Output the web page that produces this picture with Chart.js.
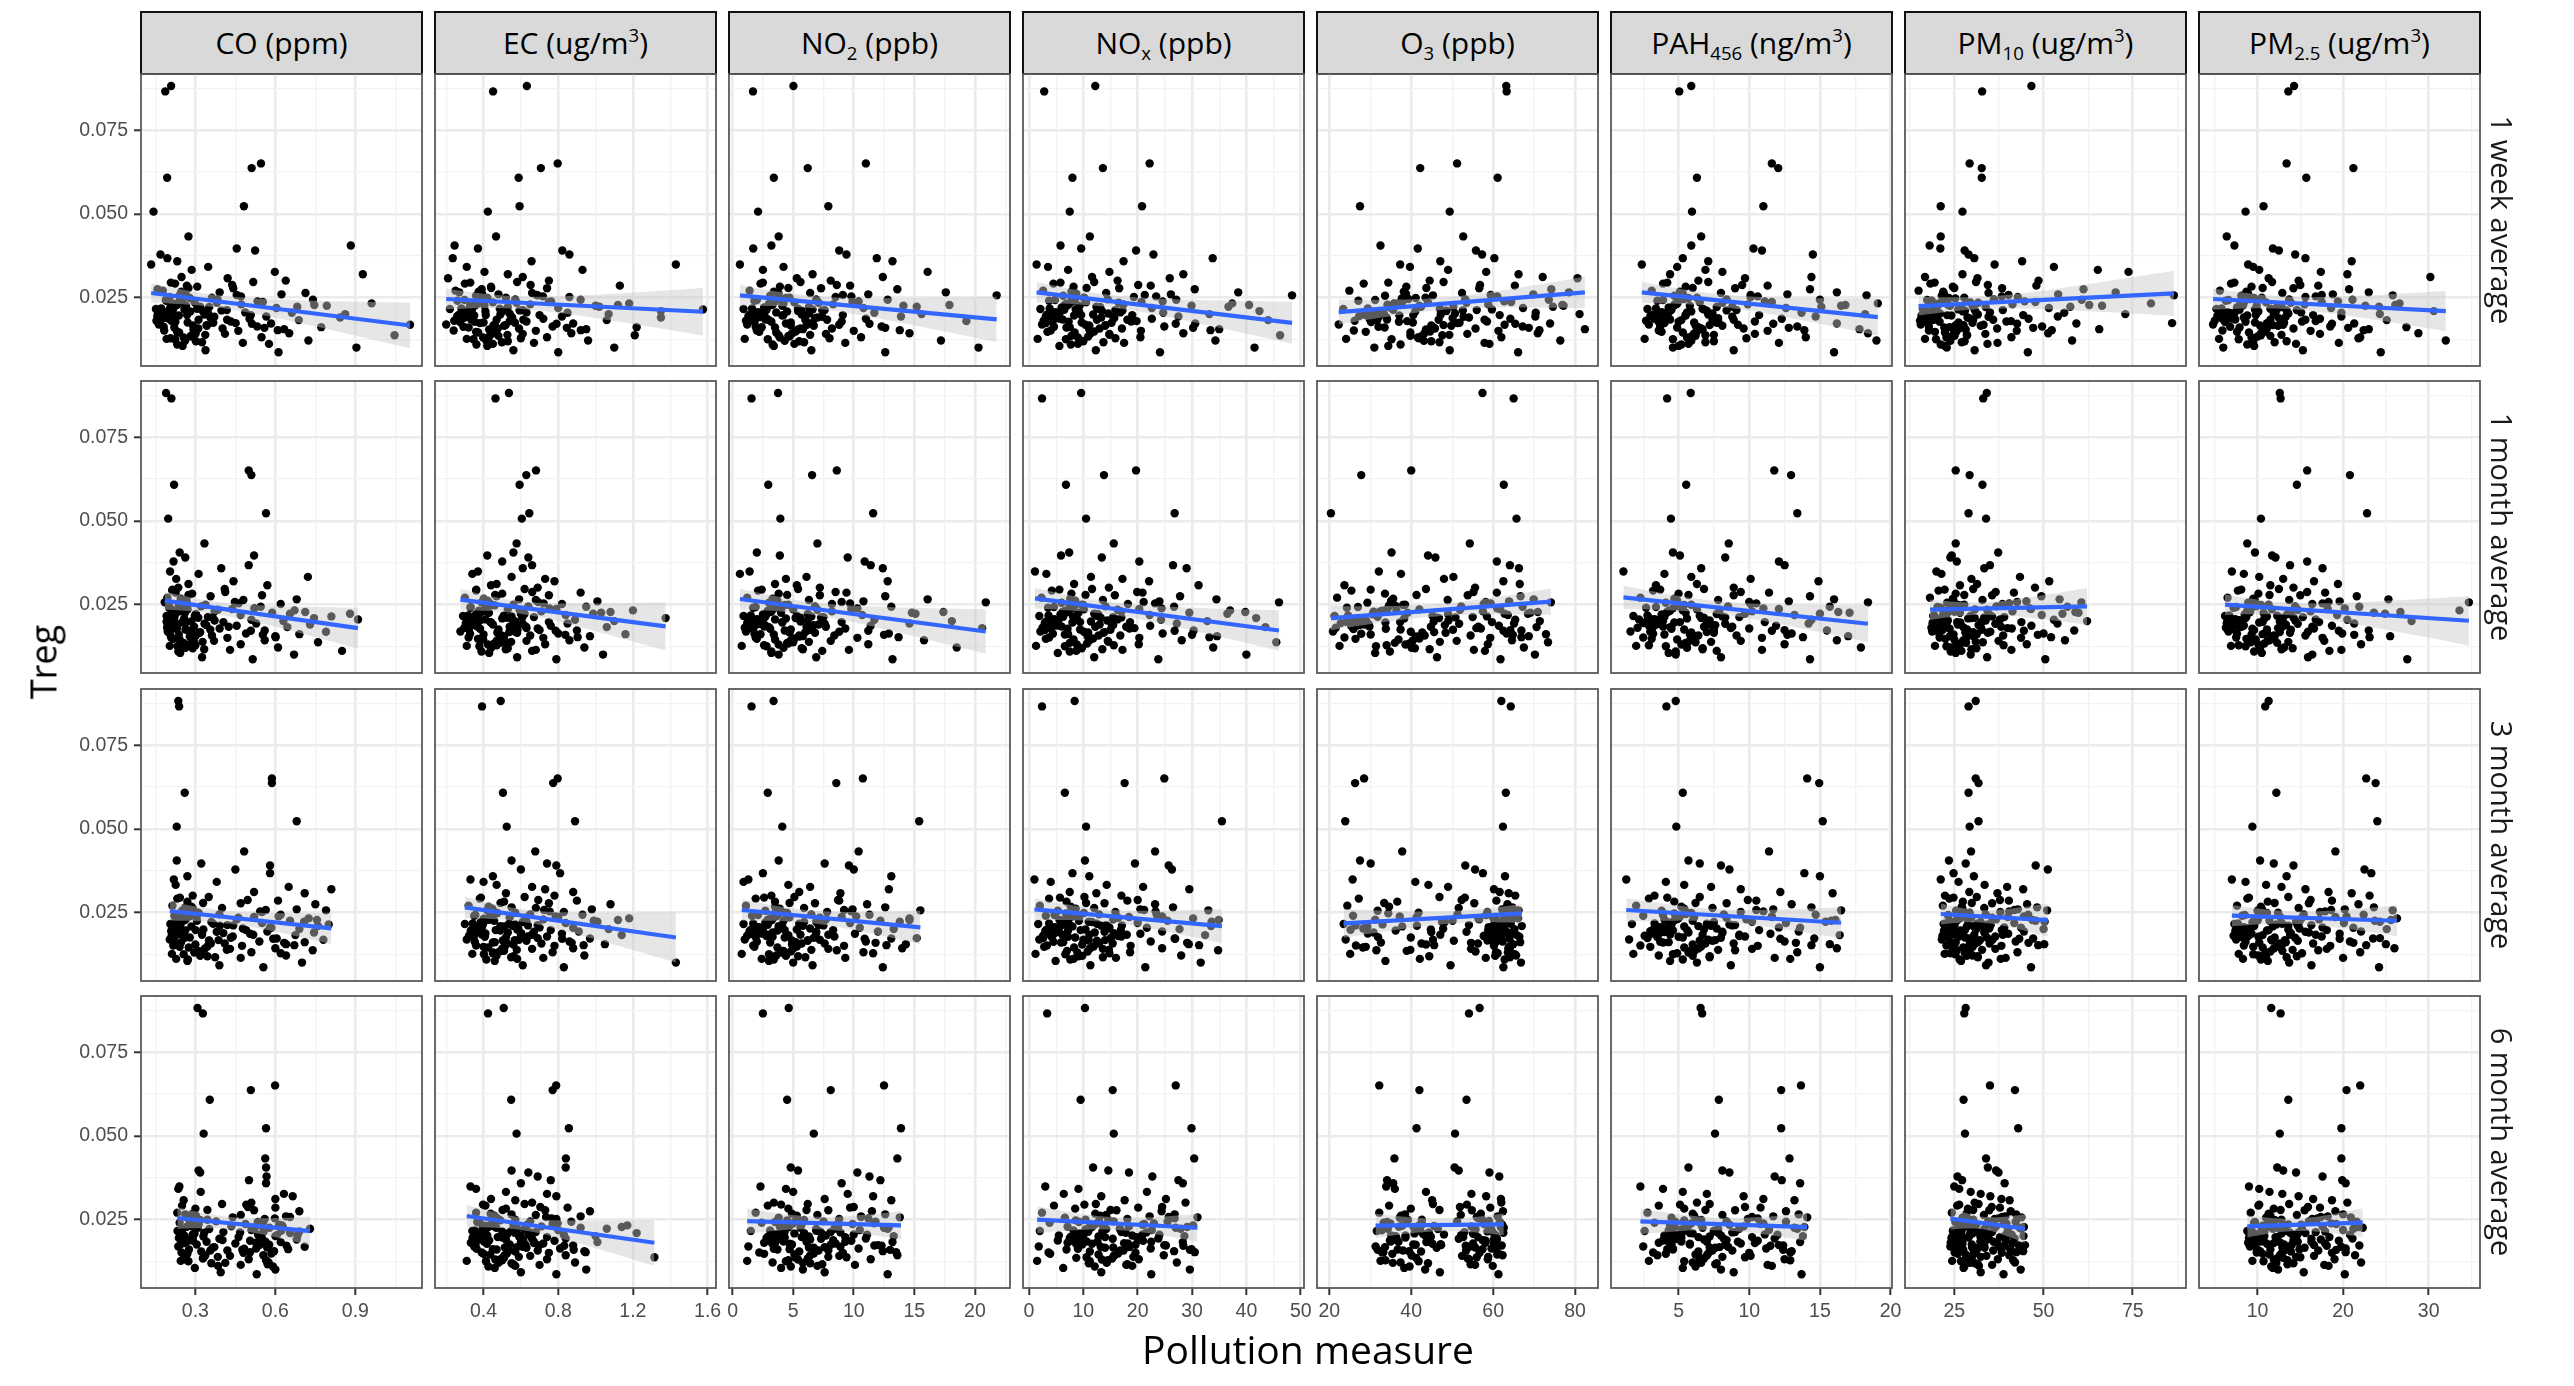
<!DOCTYPE html>
<html><head><meta charset="utf-8">
<script src="https://cdn.jsdelivr.net/npm/chart.js@4.4.1/dist/chart.umd.min.js"></script>
<style>
html,body{margin:0;padding:0;background:#fff;}
#wrap{position:relative;width:2574px;height:1386px;overflow:hidden;background:#fff;}
canvas.panel{position:absolute;}
.strip{position:absolute;box-sizing:border-box;background:#D9D9D9;border:2px solid #111;display:flex;align-items:center;justify-content:center;font-family:'Open Sans',sans-serif;font-size:30px;color:#000;white-space:nowrap;}
.strip span.t{display:inline-block;line-height:1;}
.strip sub{font-size:0.62em;vertical-align:-0.32em;line-height:0;}
.strip sup{font-size:0.62em;vertical-align:0.62em;line-height:0;}
.rstrip{position:absolute;writing-mode:vertical-rl;font-family:'Open Sans',sans-serif;font-size:29px;color:#1a1a1a;white-space:nowrap;transform:translate(-50%,-50%);}
.ytitle{position:absolute;font-family:'Open Sans',sans-serif;font-size:36px;color:#000;white-space:nowrap;transform:translate(-50%,-50%) rotate(-90deg);}
.xtitle{position:absolute;font-family:'Open Sans',sans-serif;font-size:39px;line-height:39px;color:#000;white-space:nowrap;transform:translateX(-50%);}
</style>
</head><body><div id="wrap"></div>
<script>
// ---------------- DATA ----------------
const windows = ['1 week average','1 month average','3 month average','6 month average'];
const yRange = [0.0046, 0.0918];
const yTicks = [0.025, 0.050, 0.075];

// Treg value of each subject (shared by all panels)
const treg = [
0.0882,0.0866,0.0651,0.0637,0.0608,0.0523,0.0507,0.0433,
0.0406,0.0397,0.0391,0.0379,0.0368,0.0359,
0.0349,0.0342,0.0333,0.0327,0.0320,0.0312,0.0308,0.0301,
0.0271,0.0292,0.0256,0.0283,0.0250,0.0297,0.0264,0.0278,0.0252,0.0286,0.0260,0.0275,0.0266,0.0257,
0.0216,0.0241,0.0203,0.0229,0.0248,0.0209,0.0236,0.0200,0.0222,0.0245,0.0213,0.0230,0.0198,0.0237,0.0219,0.0205,0.0244,0.0226,0.0201,0.0233,0.0210,0.0215,0.0223,0.0206,
0.0170,0.0152,0.0188,0.0161,0.0197,0.0176,0.0155,0.0184,0.0166,0.0193,0.0158,0.0179,0.0151,0.0187,0.0164,0.0194,0.0173,0.0156,0.0183,0.0162,0.0191,0.0169,0.0180,0.0174,
0.0127,0.0148,0.0106,0.0136,0.0120,0.0093,0.0142,0.0115,0.0132,0.0087,0.0144,0.0122,0.0101,0.0138,0.0112,0.0129,
0.0218,0.0185,0.0262,0.0143,0.0207,0.0231,0.0168,0.0195,0.0249,0.0126,
0.0212,0.0177,0.0239,0.0158,0.0202,0.0288,0.0134,0.0221,0.0189,0.0246,
0.0163,0.0227,0.0198,0.0117,0.0254,0.0181,0.0214,0.0149,0.0235,0.0172,
0.0208,0.0268,0.0139,0.0192,0.0226,0.0160,0.0243,0.0184,0.0110,0.0217,
0.0199,0.0279,0.0153,0.0232,0.0175,0.0204,0.0131,0.0258,0.0187,0.0223,
0.0146,0.0211,0.0295,0.0167,0.0239,0.0190,0.0121,0.0228,0.0178,0.0203];

// ---- CO (ppm)
const rangeCO = [0.096, 1.150];
const ticksCO = [0.3, 0.6, 0.9];
const fitCO = [[0.0264,0.0167],[0.0262,0.0180],[0.0255,0.0203],[0.0255,0.0216]];
const CO_1w = [0.209,0.187,0.546,0.511,0.194,0.482,0.143,0.274,
0.883,0.455,0.524,0.169,0.195,0.232,
0.134,0.348,0.286,0.598,0.928,0.248,0.421,0.639,
0.178,0.224,0.262,0.307,0.362,0.517,0.713,0.442,0.203,0.268,0.623,0.158,0.391,0.241,
0.152,0.191,0.214,0.229,0.253,0.281,0.297,0.334,0.352,0.383,0.418,0.472,0.508,0.553,0.604,0.662,0.741,0.793,0.862,0.961,0.171,0.259,0.318,0.487,
0.163,0.183,0.199,0.221,0.238,0.271,0.293,0.312,0.343,0.371,0.402,0.433,0.461,0.503,0.532,0.566,0.584,0.633,0.688,0.772,0.843,1.105,0.211,0.451,
0.192,0.231,0.252,0.283,0.302,0.338,0.411,0.478,0.548,0.612,0.652,0.724,0.904,1.047,0.576,0.207,
0.172,0.215,0.263,0.301,0.188,0.236,0.342,0.157,0.279,0.224,
0.398,0.167,0.251,0.311,0.197,0.438,0.283,0.206,0.357,0.242,
0.181,0.228,0.269,0.325,0.471,0.154,0.216,0.295,0.381,0.512,
0.176,0.247,0.337,0.203,0.265,0.559,0.189,0.419,0.232,0.306,
0.161,0.274,0.609,0.218,0.367,0.194,0.256,0.455,0.172,0.682,
0.239,0.327,0.208,0.291,0.533,0.183,0.261,0.746,0.225,0.348];
const CO_1m = [0.19,0.21,0.50,0.51,0.22,0.565,0.198,0.334,
0.241,0.52,0.262,0.218,0.50,0.397,
0.205,0.312,0.722,0.228,0.443,0.274,0.57,0.236,
0.195,0.213,0.252,0.288,0.338,0.41,0.48,0.55,0.62,0.226,0.267,0.357,0.68,0.185,
0.192,0.201,0.219,0.233,0.246,0.258,0.271,0.285,0.302,0.321,0.347,0.372,0.405,0.438,0.47,0.51,0.545,0.588,0.63,0.672,0.745,0.81,0.88,0.91,
0.196,0.209,0.224,0.238,0.249,0.263,0.279,0.295,0.316,0.334,0.362,0.391,0.42,0.455,0.49,0.528,0.56,0.6,0.645,0.69,0.73,0.79,0.231,0.27,
0.204,0.217,0.243,0.256,0.29,0.325,0.37,0.43,0.47,0.515,0.56,0.61,0.67,0.76,0.85,0.3,
0.201,0.226,0.258,0.294,0.215,0.243,0.318,0.197,0.271,0.233,
0.365,0.207,0.249,0.302,0.219,0.412,0.282,0.211,0.341,0.238,
0.204,0.229,0.266,0.333,0.462,0.194,0.222,0.289,0.384,0.508,
0.199,0.245,0.327,0.213,0.261,0.553,0.203,0.425,0.236,0.298,
0.192,0.274,0.601,0.218,0.356,0.207,0.253,0.448,0.196,0.655,
0.241,0.311,0.214,0.286,0.521,0.2,0.263,0.712,0.227,0.372];
const CO_3m = [0.236,0.239,0.587,0.587,0.26,0.68,0.23,0.483,
0.23,0.322,0.58,0.45,0.58,0.27,
0.219,0.38,0.226,0.65,0.81,0.52,0.71,0.29,
0.214,0.232,0.25,0.27,0.31,0.35,0.4,0.47,0.55,0.61,0.68,0.75,0.262,0.79,
0.206,0.221,0.237,0.253,0.268,0.285,0.304,0.33,0.36,0.39,0.42,0.455,0.49,0.52,0.55,0.585,0.62,0.655,0.69,0.725,0.76,0.8,0.244,0.58,
0.204,0.217,0.229,0.246,0.262,0.279,0.3,0.325,0.352,0.38,0.41,0.44,0.475,0.505,0.54,0.57,0.605,0.64,0.675,0.71,0.745,0.78,0.224,0.258,
0.212,0.241,0.27,0.31,0.345,0.39,0.43,0.47,0.51,0.555,0.6,0.64,0.7,0.74,0.228,0.62,
0.215,0.248,0.291,0.336,0.227,0.265,0.387,0.209,0.312,0.256,
0.442,0.221,0.279,0.358,0.238,0.496,0.322,0.231,0.405,0.268,
0.218,0.259,0.301,0.374,0.543,0.211,0.244,0.345,0.461,0.592,
0.224,0.285,0.418,0.236,0.306,0.633,0.228,0.517,0.272,0.367,
0.213,0.329,0.671,0.251,0.433,0.234,0.296,0.564,0.219,0.708,
0.275,0.392,0.242,0.351,0.612,0.226,0.318,0.756,0.262,0.478];
const CO_6m = [0.308,0.328,0.599,0.508,0.354,0.565,0.331,0.562,
0.565,0.312,0.318,0.567,0.501,0.565,
0.24,0.236,0.32,0.632,0.665,0.6,0.256,0.51,
0.232,0.25,0.27,0.3,0.345,0.4,0.47,0.52,0.56,0.6,0.64,0.69,0.262,0.44,
0.233,0.241,0.255,0.268,0.283,0.297,0.312,0.33,0.352,0.378,0.405,0.435,0.462,0.488,0.51,0.535,0.555,0.578,0.6,0.625,0.655,0.69,0.73,0.29,
0.236,0.248,0.262,0.276,0.29,0.305,0.322,0.342,0.365,0.39,0.42,0.45,0.48,0.505,0.528,0.55,0.572,0.595,0.62,0.648,0.68,0.71,0.258,0.54,
0.245,0.27,0.298,0.33,0.36,0.395,0.43,0.47,0.5,0.53,0.555,0.575,0.6,0.26,0.385,0.565,
0.241,0.268,0.302,0.337,0.252,0.285,0.371,0.238,0.318,0.274,
0.468,0.246,0.296,0.356,0.259,0.497,0.328,0.251,0.402,0.279,
0.483,0.513,0.542,0.571,0.598,0.527,0.556,0.585,0.614,0.642,
0.244,0.289,0.384,0.262,0.309,0.476,0.534,0.563,0.591,0.622,
0.249,0.345,0.505,0.548,0.577,0.606,0.264,0.655,0.291,0.521,
0.257,0.333,0.491,0.569,0.537,0.278,0.412,0.628,0.562,0.683];

// ---- EC (ug/m3)
const rangeEC = [0.14, 1.645];
const ticksEC = [0.4, 0.8, 1.2, 1.6];
const fitEC = [[0.0246,0.0208],[0.0265,0.0185],[0.0266,0.0176],[0.0261,0.0181]];
const EC_1w = [0.632,0.451,0.797,0.707,0.588,0.593,0.423,0.467,
0.245,0.37,0.822,0.86,0.235,0.657,
1.43,0.31,0.93,0.405,0.53,0.61,0.21,0.75,
0.25,0.3,0.36,0.44,0.52,0.58,0.66,0.74,0.86,1.13,0.48,0.39,0.27,0.69,
0.22,0.26,0.29,0.33,0.37,0.41,0.45,0.49,0.53,0.57,0.61,0.65,0.7,0.75,0.8,0.85,0.92,1.0,1.07,1.18,1.35,1.575,0.34,0.63,
0.2,0.24,0.28,0.32,0.35,0.4,0.43,0.47,0.51,0.55,0.59,0.63,0.68,0.72,0.77,0.82,0.88,0.95,1.06,1.22,1.35,0.46,0.54,0.38,
0.31,0.36,0.42,0.48,0.53,0.56,0.61,0.67,0.74,0.8,0.87,0.96,1.1,1.21,0.45,0.6,
0.281,0.334,0.392,0.447,0.302,0.365,0.518,0.259,0.421,0.346,
0.593,0.274,0.378,0.476,0.317,0.652,0.431,0.325,0.554,0.389,
0.292,0.356,0.412,0.498,0.718,0.243,0.338,0.462,0.577,0.791,
0.287,0.374,0.528,0.319,0.405,0.846,0.298,0.613,0.362,0.487,
0.268,0.441,0.921,0.343,0.568,0.309,0.398,0.684,0.283,1.02,
0.371,0.505,0.329,0.453,0.762,0.296,0.416,1.12,0.352,0.539];
const EC_1m = [0.536,0.464,0.681,0.629,0.593,0.645,0.605,0.577,
0.56,0.42,0.64,0.5,0.66,0.61,
0.37,0.34,0.55,0.73,0.78,0.47,0.44,0.69,
0.3,0.36,0.43,0.5,0.56,0.62,0.68,0.75,0.82,0.92,1.01,0.47,0.59,0.39,
0.29,0.33,0.38,0.42,0.46,0.5,0.53,0.57,0.6,0.64,0.67,0.71,0.75,0.79,0.84,0.89,0.95,1.03,1.1,1.2,1.375,0.55,0.62,0.41,
0.276,0.32,0.36,0.4,0.44,0.48,0.51,0.54,0.58,0.61,0.65,0.69,0.72,0.76,0.8,0.85,0.9,0.97,1.06,1.16,0.45,0.57,0.63,0.7,
0.31,0.37,0.43,0.49,0.53,0.58,0.63,0.68,0.73,0.79,0.86,0.94,1.04,0.52,0.66,0.47,
0.318,0.367,0.421,0.472,0.338,0.395,0.538,0.305,0.446,0.378,
0.607,0.322,0.408,0.497,0.352,0.661,0.457,0.359,0.571,0.416,
0.328,0.386,0.437,0.519,0.722,0.297,0.371,0.485,0.593,0.786,
0.325,0.401,0.548,0.354,0.429,0.838,0.331,0.628,0.389,0.508,
0.311,0.462,0.904,0.375,0.582,0.342,0.424,0.692,0.319,0.987,
0.398,0.526,0.361,0.474,0.753,0.334,0.441,1.08,0.381,0.557];
const EC_3m = [0.492,0.392,0.797,0.773,0.504,0.89,0.524,0.677,
0.55,0.74,0.79,0.6,0.81,0.45,
0.33,0.4,0.47,0.66,0.73,0.88,0.52,0.78,
0.32,0.38,0.45,0.51,0.57,0.62,0.68,0.75,0.83,0.9,0.98,1.08,0.55,0.42,
0.3,0.35,0.39,0.43,0.47,0.51,0.54,0.58,0.61,0.65,0.69,0.72,0.76,0.8,0.84,0.88,0.93,0.99,1.07,1.18,0.49,0.57,0.63,0.7,
0.31,0.36,0.41,0.45,0.49,0.52,0.56,0.6,0.63,0.67,0.71,0.74,0.78,0.82,0.86,0.91,0.97,1.05,1.14,0.46,0.53,0.59,0.64,0.69,
0.34,0.4,0.46,0.51,0.56,0.61,0.66,0.72,0.77,0.83,0.88,0.94,1.43,0.5,0.58,0.45,
0.342,0.391,0.447,0.501,0.362,0.421,0.567,0.331,0.474,0.402,
0.638,0.347,0.435,0.526,0.376,0.693,0.486,0.384,0.602,0.443,
0.353,0.412,0.465,0.548,0.754,0.322,0.396,0.514,0.623,0.821,
0.349,0.427,0.578,0.379,0.457,0.872,0.356,0.659,0.415,0.537,
0.336,0.491,0.936,0.401,0.613,0.367,0.452,0.724,0.344,1.01,
0.425,0.556,0.386,0.503,0.786,0.358,0.469,1.12,0.407,0.586];
const EC_6m = [0.508,0.424,0.789,0.77,0.548,0.857,0.577,0.841,
0.84,0.55,0.64,0.69,0.76,0.6,
0.33,0.36,0.52,0.74,0.79,0.44,0.57,0.66,
0.36,0.41,0.47,0.52,0.57,0.62,0.68,0.73,0.79,0.85,0.92,0.97,0.55,0.45,
0.34,0.38,0.42,0.46,0.49,0.53,0.56,0.59,0.62,0.65,0.68,0.71,0.74,0.77,0.8,0.83,0.87,0.92,1.0,1.17,1.22,0.5,0.58,0.64,
0.35,0.39,0.43,0.47,0.5,0.54,0.57,0.6,0.63,0.66,0.69,0.72,0.75,0.78,0.81,0.84,0.88,0.94,1.01,0.45,0.52,0.61,0.67,0.7,
0.31,0.4,0.46,0.51,0.55,0.6,0.65,0.7,0.74,0.79,0.84,0.89,0.95,1.315,0.57,0.5,
0.352,0.402,0.458,0.512,0.372,0.432,0.578,0.341,0.485,0.413,
0.649,0.357,0.446,0.537,0.386,0.704,0.497,0.394,0.613,0.454,
0.363,0.423,0.476,0.559,0.765,0.332,0.407,0.525,0.634,0.832,
0.359,0.438,0.589,0.389,0.468,0.883,0.366,0.67,0.426,0.548,
0.346,0.502,0.947,0.412,0.624,0.377,0.463,0.735,0.354,1.06,
0.436,0.567,0.397,0.514,0.797,0.368,0.48,1.14,0.418,0.597];

// ---- NO2 (ppb)
const rangeNO2 = [-0.3, 22.9];
const ticksNO2 = [0, 5, 10, 15, 20];
const fitNO2 = [[0.0257,0.0185],[0.0267,0.0170],[0.0258,0.0206],[0.0246,0.0233]];
const NO2_1w = [5.02,1.68,11.0,6.2,3.4,7.9,2.1,3.8,
3.2,1.7,8.8,9.4,11.9,13.2,
0.6,4.2,2.5,16.1,6.6,12.4,5.3,8.1,
1.4,2.3,3.1,3.9,4.7,5.6,6.4,7.3,8.5,9.7,11.2,13.6,17.6,21.8,
0.9,1.8,2.6,3.3,3.9,4.5,5.1,5.7,6.3,6.9,7.6,8.3,9.1,9.9,10.8,11.7,12.8,14.1,15.6,4.2,5.4,6.6,2.9,3.6,
1.2,2.0,2.8,3.5,4.1,4.8,5.4,6.0,6.7,7.4,8.2,9.0,10.0,11.0,12.3,13.9,4.4,5.8,3.0,2.4,7.0,8.8,19.3,6.2,
1.0,2.2,3.4,4.6,5.5,6.5,7.7,9.3,10.6,12.6,14.6,17.2,20.3,3.8,5.1,8.0,
1.6,2.7,3.8,4.9,2.1,3.2,6.1,1.3,4.4,2.9,
7.4,1.8,3.5,5.6,2.4,8.6,4.7,2.6,6.8,3.7,
1.9,3.1,4.2,5.9,9.8,1.1,2.8,5.2,7.1,11.3,
1.7,3.4,6.4,2.3,4.1,12.6,2.0,7.8,3.3,5.4,
1.4,4.6,13.8,3.0,6.6,2.2,3.9,9.1,1.5,15.2,
3.6,5.7,2.5,4.8,10.4,2.0,4.3,17.9,3.2,6.3];
const NO2_1m = [3.75,1.56,8.6,6.56,2.94,11.6,3.94,7.0,
2.0,3.9,9.5,10.9,11.4,12.4,
1.4,0.6,6.1,4.4,12.8,3.5,5.3,7.2,
1.2,2.1,3.0,3.8,4.6,5.4,6.3,7.2,8.2,9.4,10.8,12.6,16.1,20.9,
0.9,1.7,2.5,3.2,3.8,4.4,5.0,5.6,6.2,6.8,7.5,8.2,9.0,9.8,10.7,11.7,13.1,14.8,18.1,4.0,5.2,6.5,2.8,3.5,
1.1,1.9,2.7,3.4,4.1,4.8,5.5,6.1,6.8,7.6,8.4,9.3,10.3,11.4,12.9,14.6,4.3,5.8,3.0,2.3,7.1,8.8,20.6,6.3,
0.75,2.0,3.2,4.5,5.7,6.9,8.1,9.6,11.2,13.2,15.8,18.5,3.8,5.0,7.4,2.6,
1.5,2.6,3.7,4.8,2.0,3.1,6.0,1.2,4.3,2.8,
7.3,1.7,3.4,5.5,2.3,8.5,4.6,2.5,6.7,3.6,
1.8,3.0,4.1,5.8,9.7,1.0,2.7,5.1,7.0,11.2,
1.6,3.3,6.3,2.2,4.0,12.5,1.9,7.7,3.2,5.3,
1.3,4.5,13.7,2.9,6.5,2.1,3.8,9.0,1.4,15.1,
3.5,5.6,2.4,4.7,10.3,1.9,4.2,17.4,3.1,6.2];
const NO2_3m = [3.38,1.56,10.75,8.56,2.9,15.4,4.1,10.4,
3.8,7.6,9.6,10.0,2.5,13.1,
1.3,0.9,4.6,6.4,12.9,5.5,8.9,3.2,
1.1,1.9,2.7,3.5,4.3,5.1,5.9,6.8,7.8,8.8,9.9,11.1,12.6,15.5,
0.9,1.6,2.3,2.9,3.5,4.1,4.7,5.3,5.9,6.5,7.1,7.7,8.3,9.0,9.7,10.5,11.3,12.2,13.3,14.6,3.8,5.6,6.9,2.1,
1.0,1.7,2.4,3.1,3.7,4.3,4.9,5.6,6.2,6.9,7.6,8.4,9.2,10.1,11.0,12.0,13.1,14.3,4.6,5.2,3.3,7.2,2.8,15.2,
0.75,1.8,3.0,4.2,5.4,6.6,7.9,9.3,10.8,12.4,14.0,3.6,5.0,8.6,2.4,11.6,
1.7,2.8,3.9,5.0,2.2,3.3,6.2,1.4,4.5,3.0,
7.5,1.9,3.6,5.7,2.5,8.7,4.8,2.7,6.9,3.8,
2.0,3.2,4.3,6.0,9.8,1.2,2.9,5.3,7.2,10.9,
1.8,3.5,6.5,2.4,4.2,11.8,2.1,7.9,3.4,5.5,
1.5,4.7,12.7,3.1,6.7,2.3,4.0,9.2,1.6,13.8,
3.7,5.8,2.6,4.9,10.2,2.1,4.4,14.6,3.3,6.4];
const NO2_6m = [4.63,2.5,12.5,8.1,4.5,13.9,6.7,13.6,
4.8,5.4,10.3,11.3,12.2,9.0,
2.3,4.4,5.0,9.5,11.6,7.6,13.1,3.4,
1.9,2.9,3.8,4.6,5.4,6.2,7.0,7.9,8.8,9.7,10.6,11.5,12.6,13.8,
1.5,2.4,3.2,3.9,4.5,5.1,5.7,6.3,6.9,7.5,8.1,8.7,9.3,9.9,10.5,11.1,11.8,12.5,13.3,4.2,5.9,7.2,8.4,10.0,
1.3,2.2,3.0,3.7,4.3,4.9,5.5,6.1,6.7,7.3,7.9,8.5,9.1,9.8,10.4,11.0,11.7,12.4,13.2,4.7,6.4,8.9,3.5,12.0,
1.2,2.6,4.0,5.2,6.4,7.6,8.8,10.1,11.4,12.8,13.6,3.3,5.8,9.4,7.0,4.6,
3.1,4.2,5.3,6.4,3.6,4.7,7.6,2.8,5.9,4.4,
8.9,3.3,5.0,7.1,3.9,10.0,6.2,4.1,8.3,5.2,
3.4,4.6,5.7,7.4,11.2,2.6,4.3,6.7,8.6,12.3,
3.2,4.9,7.9,3.8,5.6,13.0,3.5,9.3,4.8,6.9,
2.9,6.1,13.5,4.5,8.1,3.7,5.4,10.6,3.0,12.8,
5.1,7.3,4.0,6.3,11.7,3.5,5.8,12.9,4.7,7.7];

// ---- NOx (ppb)
const rangeNOx = [-1.1, 50.6];
const ticksNOx = [0, 10, 20, 30, 40, 50];
const fitNOx = [[0.0266,0.0175],[0.0269,0.0173],[0.0260,0.0210],[0.0250,0.0226]];
const NOx_1w = [12.2,2.8,22.2,13.6,8.0,20.8,7.5,11.2,
5.8,9.6,19.7,22.9,33.8,17.4,
1.4,3.5,7.2,14.8,28.4,11.6,25.9,16.3,
2.6,4.5,6.3,8.2,10.1,12.0,14.2,16.6,19.3,22.4,26.1,30.5,38.5,48.4,
2.1,3.7,5.2,6.6,7.9,9.2,10.5,11.8,13.1,14.5,15.9,17.4,19.0,20.7,22.6,24.7,27.1,29.9,33.2,37.4,42.4,8.6,12.4,16.8,
2.4,4.0,5.5,6.9,8.3,9.7,11.1,12.5,14.0,15.5,17.1,18.8,20.6,22.6,24.9,27.5,30.6,35.0,44.0,7.5,13.3,10.4,19.8,3.1,
1.6,3.4,5.6,7.8,10.0,12.3,14.8,17.5,20.5,24.1,28.4,34.3,41.5,46.2,9.0,15.9,
3.8,6.2,8.7,11.3,4.9,7.4,14.1,3.1,10.2,6.8,
17.2,4.3,8.1,13.0,5.6,20.1,10.9,6.0,15.7,8.5,
4.6,7.1,9.6,13.7,23.4,2.7,6.5,12.0,16.5,27.0,
4.0,7.8,14.8,5.3,9.3,30.2,4.8,18.1,7.7,12.6,
3.3,10.6,33.4,6.9,15.2,5.1,9.0,21.3,3.6,36.7,
8.4,13.4,5.8,11.1,24.6,4.7,9.9,40.5,7.3,14.6];
const NOx_1m = [9.6,2.4,19.7,13.8,6.8,26.8,10.5,15.6,
7.4,5.9,13.4,20.3,26.5,29.0,
1.1,3.2,11.4,17.2,22.1,8.3,31.2,14.7,
2.3,4.2,6.0,7.8,9.7,11.6,13.6,15.8,18.2,20.9,24.0,27.8,34.5,46.0,
1.9,3.5,4.9,6.2,7.5,8.8,10.1,11.4,12.7,14.1,15.5,17.0,18.6,20.3,22.2,24.3,26.7,29.5,32.8,37.0,41.8,8.1,12.0,16.3,
2.1,3.7,5.2,6.6,8.0,9.4,10.8,12.2,13.7,15.2,16.8,18.5,20.3,22.3,24.6,27.2,30.3,34.6,43.5,7.2,13.0,10.1,19.4,2.9,
1.3,3.1,5.3,7.5,9.7,12.0,14.5,17.2,20.2,23.8,28.1,33.9,40.0,45.5,8.7,15.6,
3.6,6.0,8.5,11.1,4.7,7.2,13.9,2.9,10.0,6.6,
17.0,4.1,7.9,12.8,5.4,19.9,10.7,5.8,15.5,8.3,
4.4,6.9,9.4,13.5,23.2,2.5,6.3,11.8,16.3,26.8,
3.8,7.6,14.6,5.1,9.1,30.0,4.6,17.9,7.5,12.4,
3.1,10.4,33.2,6.7,15.0,4.9,8.8,21.1,3.4,36.5,
8.2,13.2,5.6,10.9,24.4,4.5,9.7,39.8,7.1,14.4];
const NOx_3m = [8.4,2.4,24.9,17.6,6.6,35.5,10.5,23.2,
10.3,19.5,25.7,26.3,8.0,11.1,
1.0,4.0,14.3,21.0,29.5,7.5,12.4,17.0,
2.0,3.7,5.3,6.9,8.5,10.2,12.0,13.9,15.9,18.1,20.5,23.2,26.5,33.0,
1.7,3.1,4.4,5.6,6.8,8.0,9.2,10.4,11.6,12.9,14.2,15.5,16.9,18.4,20.0,21.7,23.5,25.5,27.7,30.2,33.5,7.4,11.0,14.8,
1.9,3.3,4.6,5.9,7.2,8.5,9.8,11.1,12.5,13.9,15.4,17.0,18.7,20.5,22.4,24.5,26.8,29.4,32.4,6.3,12.1,10.0,16.4,2.6,
1.2,2.8,4.9,7.0,9.1,11.3,13.6,16.0,18.6,21.4,24.5,28.0,31.6,34.8,8.2,14.8,
3.7,6.1,8.6,11.2,4.8,7.3,14.0,3.0,10.1,6.7,
17.1,4.2,8.0,12.9,5.5,20.0,10.8,5.9,15.6,8.4,
4.5,7.0,9.5,13.6,23.3,2.6,6.4,11.9,16.4,26.9,
3.9,7.7,14.7,5.2,9.2,29.1,4.7,18.0,7.6,12.5,
3.2,10.5,31.3,6.8,15.1,5.0,8.9,21.2,3.5,33.6,
8.3,13.3,5.7,11.0,24.5,4.6,9.8,34.9,7.2,14.5];
const NOx_6m = [10.3,3.35,27.0,15.4,9.5,29.9,15.6,30.4,
11.8,14.6,18.4,22.7,27.5,28.3,
3.0,9.1,21.7,6.4,13.3,25.2,17.6,28.8,
2.4,4.6,6.6,8.5,10.4,12.3,14.2,16.1,18.1,20.1,22.2,24.4,26.8,31.0,
2.0,3.8,5.5,7.1,8.6,10.0,11.4,12.8,14.2,15.6,17.0,18.4,19.8,21.2,22.6,24.0,25.5,27.0,28.6,30.2,9.3,13.5,16.7,20.9,
1.8,3.6,5.3,6.9,8.4,9.8,11.2,12.6,14.0,15.4,16.8,18.2,19.6,21.0,22.4,23.8,25.2,26.7,28.3,29.9,7.6,13.2,17.5,24.9,
1.5,3.9,6.3,8.7,11.0,13.3,15.6,17.9,20.2,22.5,24.8,27.2,29.6,10.6,19.0,14.5,
8.2,10.6,13.1,15.7,9.3,11.8,18.5,7.5,14.6,11.2,
21.6,8.7,12.5,17.4,10.0,24.5,15.3,10.4,20.1,12.9,
9.0,11.5,14.0,18.1,26.8,7.1,10.9,16.4,20.9,28.4,
8.4,12.2,19.2,9.7,13.7,29.6,9.2,22.5,12.1,17.0,
7.7,15.0,30.5,11.3,19.6,9.5,13.4,25.7,8.0,27.9,
12.8,17.8,10.2,15.5,23.0,9.1,14.3,29.1,11.6,19.0];

// ---- O3 (ppb)
const rangeO3 = [17.0, 85.6];
const ticksO3 = [20, 40, 60, 80];
const fitO3 = [[0.0207,0.0266],[0.0210,0.0259],[0.0218,0.0248],[0.0232,0.0236]];
const O3_1w = [63.2,63.3,51.2,42.2,61.1,27.5,49.4,52.7,
32.5,41.6,55.8,57.3,60.3,47.1,
37.3,39.7,49.0,58.3,66.2,72.1,80.6,44.5,
24.9,28.4,33.6,38.8,43.5,47.9,52.4,56.6,60.9,65.3,69.8,74.2,78.5,45.3,
23.4,27.1,30.6,34.2,37.7,41.0,44.1,47.2,50.3,53.2,56.0,58.8,61.6,64.4,67.3,70.4,73.6,77.2,81.1,35.8,48.6,59.7,42.4,29.2,
22.3,26.0,29.8,33.5,37.1,40.4,43.6,46.7,49.8,52.8,55.7,58.5,61.3,64.2,67.2,70.3,73.9,82.4,31.7,45.4,54.1,62.8,39.0,51.3,
24.1,28.9,34.4,39.8,44.9,49.4,53.7,57.9,62.0,66.1,70.9,76.4,31.0,47.6,59.1,41.9,
29.4,34.1,38.7,43.2,31.6,36.5,47.9,27.3,41.1,35.2,
52.6,30.2,37.9,45.8,33.3,56.8,42.4,34.7,50.1,39.3,
32.0,36.0,40.5,46.9,61.0,26.2,35.6,44.6,53.5,65.4,
30.8,38.2,49.3,33.9,42.0,68.7,31.2,57.9,37.4,47.0,
28.6,43.7,71.3,36.7,51.8,32.5,41.6,59.4,29.9,74.6,
39.8,48.5,34.4,44.9,62.7,31.9,43.1,76.9,37.0,50.7];
const O3_1m = [57.4,65.0,40.0,27.8,62.6,20.4,65.7,54.3,
35.2,44.1,45.9,60.9,64.1,66.3,
32.1,37.5,50.3,48.0,62.5,66.5,23.7,55.6,
21.9,25.4,29.3,33.6,38.5,43.6,48.9,53.8,57.7,60.9,63.9,66.7,69.9,74.1,
21.3,24.3,27.4,30.8,34.6,38.3,42.0,45.5,49.0,52.2,55.0,57.5,59.7,61.7,63.6,65.4,67.2,69.1,71.4,36.4,46.8,58.5,62.8,26.0,
20.9,23.7,26.8,30.1,33.7,37.4,41.2,44.8,48.4,51.7,54.5,57.0,59.3,61.4,63.3,65.1,66.9,68.7,70.6,72.9,28.6,39.9,55.9,64.2,
22.5,26.4,31.2,36.0,40.9,46.3,51.1,55.3,58.7,61.8,64.6,67.5,70.2,73.4,58.0,34.0,
24.6,29.8,35.1,40.4,27.2,32.7,45.6,22.8,38.0,31.4,
50.8,25.9,34.3,43.3,29.0,55.2,39.6,30.6,48.2,36.2,
27.8,32.0,37.3,44.5,59.4,21.6,31.8,42.0,51.9,62.5,
26.5,35.6,47.0,29.6,39.1,64.8,27.0,56.4,34.8,45.2,
24.1,41.3,66.9,33.2,50.2,28.4,38.6,58.2,25.3,68.5,
36.9,46.4,30.1,42.7,61.0,27.5,40.1,70.9,33.8,49.1];
const O3_3m = [62.0,64.3,28.5,26.3,63.1,23.9,62.4,37.8,
27.5,30.1,53.2,55.6,57.5,62.9,
25.7,41.0,44.2,49.0,60.2,61.6,63.8,65.4,
24.4,27.2,31.8,36.6,41.8,46.9,51.6,55.4,58.6,60.8,62.2,63.5,64.7,66.2,
23.5,25.8,28.3,31.2,34.4,37.8,41.3,44.8,48.2,51.3,54.1,56.6,58.8,60.5,61.7,62.7,63.6,64.4,65.2,66.1,67.0,33.0,47.5,59.6,
24.0,26.5,29.4,32.6,36.2,39.9,43.6,47.1,50.4,53.5,56.3,58.7,60.2,61.3,62.3,63.2,64.0,64.9,65.8,66.6,30.8,45.3,57.7,62.0,
25.1,28.9,33.7,38.9,44.4,49.6,54.6,58.2,60.7,62.5,64.1,65.6,66.8,31.5,42.1,61.1,
60.3,61.8,62.9,63.7,58.9,64.5,59.6,62.2,63.1,65.3,
26.4,31.9,37.2,42.5,47.8,52.3,55.7,61.1,63.4,64.8,
60.7,62.6,59.2,64.1,65.9,57.8,61.5,63.9,60.0,62.0,
29.3,34.6,39.8,44.9,50.1,54.6,58.3,61.3,62.8,64.3,
25.2,33.4,45.6,56.4,60.9,62.4,63.6,65.0,59.8,61.7,
28.2,41.4,53.1,58.6,62.7,64.6,60.5,63.2,66.4,61.0];
const O3_6m = [56.7,54.1,32.2,42.0,53.5,41.3,50.7,35.9,
50.6,51.6,59.1,61.5,34.1,35.6,
33.9,36.0,43.6,54.7,58.3,61.9,45.1,62.0,
32.2,34.6,37.2,39.9,42.6,45.3,52.1,54.8,57.2,59.3,61.1,62.4,38.5,56.3,
31.6,33.3,35.1,37.0,38.9,40.8,42.7,44.6,46.5,51.2,53.0,54.7,56.3,57.8,59.2,60.5,61.6,62.6,36.2,41.9,55.4,58.6,34.3,48.0,
31.3,32.9,34.8,36.7,38.6,40.5,42.4,44.3,46.2,51.6,53.4,55.1,56.7,58.2,59.6,60.9,62.1,39.5,43.7,57.4,35.8,54.2,60.2,47.3,
32.5,35.4,38.3,41.2,44.1,47.0,52.4,55.6,58.7,61.3,62.3,37.4,43.4,56.0,59.9,33.7,
32.8,35.0,37.5,40.1,42.9,45.6,33.6,36.4,39.2,41.8,
44.3,47.2,34.9,38.0,43.5,51.9,53.8,55.7,57.4,59.0,
60.6,61.9,52.7,54.5,56.4,58.1,59.8,61.3,62.2,53.3,
55.1,57.0,58.8,60.2,62.1,31.8,34.1,36.9,39.6,42.2,
44.8,46.9,33.2,37.8,41.1,52.2,54.2,56.0,57.9,59.5,
61.0,62.5,53.6,55.6,58.4,60.9,35.5,40.6,45.2,38.6];

// ---- PAH456 (ng/m3)
const rangePAH = [0.22, 20.1];
const ticksPAH = [5, 10, 15, 20];
const fitPAH = [[0.0266,0.0192],[0.0272,0.0193],[0.0258,0.0220],[0.0245,0.0228]];
const PAH_1w = [5.9,5.05,11.6,12.05,6.3,11.0,5.95,6.6,
5.9,10.3,10.9,14.5,5.3,7.1,
2.4,4.9,6.9,8.1,4.4,14.4,9.7,6.4,
3.1,3.9,4.7,5.5,6.3,7.1,8.0,9.0,10.1,11.3,12.7,14.3,16.2,18.3,
2.8,3.5,4.1,4.7,5.3,5.9,6.5,7.1,7.7,8.4,9.1,9.9,10.7,11.6,12.6,13.7,15.0,16.5,18.2,19.1,4.4,6.8,8.8,5.6,
2.9,3.6,4.3,4.9,5.5,6.1,6.7,7.4,8.1,8.8,9.6,10.4,11.3,12.3,13.4,14.7,16.2,17.8,5.2,6.4,3.3,9.2,7.8,4.0,
2.6,3.8,5.0,6.2,7.5,8.9,10.4,12.1,14.0,16.0,18.4,19.0,4.6,6.9,5.7,9.8,
3.4,4.4,5.3,6.1,3.8,4.8,7.2,3.0,5.7,4.6,
8.4,3.6,5.0,6.6,4.1,9.5,5.9,4.3,7.8,5.4,
3.7,4.7,5.5,6.9,10.6,2.7,4.5,6.3,8.1,11.7,
3.5,5.1,7.5,4.0,5.8,12.8,3.9,8.9,5.2,6.7,
3.2,6.0,13.9,4.9,7.7,3.9,5.6,10.1,3.3,15.1,
5.3,7.0,4.2,6.2,11.1,3.8,5.9,16.8,5.0,7.4];
const PAH_1m = [5.86,4.19,11.77,12.96,5.54,13.4,4.46,8.55,
4.6,5.1,8.3,12.1,12.5,6.6,
1.1,4.0,5.9,10.1,14.9,6.3,3.4,8.9,
2.3,3.2,4.1,5.0,5.9,6.8,7.8,8.9,10.1,11.4,12.8,14.3,16.0,18.4,
1.8,2.7,3.5,4.2,4.9,5.6,6.3,7.0,7.7,8.5,9.3,10.2,11.1,12.1,13.2,14.4,15.7,17.1,3.9,5.3,6.6,8.1,9.7,2.2,
1.6,2.5,3.3,4.0,4.7,5.4,6.1,6.8,7.5,8.3,9.1,10.0,10.9,11.9,13.0,14.2,15.5,17.0,4.4,5.8,7.2,3.0,8.7,12.5,
2.0,3.1,4.3,5.5,6.7,8.0,9.4,10.9,12.5,14.3,16.2,17.9,4.8,6.2,7.7,2.9,
2.8,3.9,4.9,5.8,3.3,4.3,7.0,2.5,5.4,4.1,
8.3,3.1,4.6,6.4,3.6,9.4,5.6,3.8,7.6,5.0,
3.2,4.2,5.1,6.7,10.5,2.1,4.0,6.1,7.9,11.6,
3.0,4.7,7.3,3.5,5.5,12.7,3.4,8.8,4.8,6.5,
2.7,5.7,13.8,4.4,7.5,3.4,5.2,10.0,2.9,15.0,
4.9,6.8,3.7,5.9,11.0,3.3,5.6,16.3,4.5,7.2];
const PAH_3m = [4.8,4.14,14.1,14.95,5.3,15.2,4.84,11.4,
5.7,6.5,8.0,8.6,13.9,15.0,
1.3,4.1,5.4,7.3,9.4,12.2,15.9,3.3,
2.0,2.9,3.8,4.7,5.6,6.5,7.4,8.4,9.4,10.5,11.7,13.0,14.4,16.5,
1.7,2.5,3.3,4.0,4.7,5.4,6.1,6.8,7.5,8.2,9.0,9.8,10.7,11.6,12.6,13.6,14.7,15.8,3.6,5.0,6.4,8.6,10.2,12.1,
1.5,2.3,3.1,3.9,4.6,5.3,6.0,6.7,7.4,8.1,8.9,9.7,10.6,11.5,12.5,13.5,14.6,15.7,16.4,4.3,5.7,7.1,9.3,2.8,
1.8,3.0,4.4,5.8,7.2,8.7,10.2,11.8,13.4,15.0,16.2,3.6,6.3,9.0,12.9,4.9,
3.3,4.4,5.4,6.4,3.8,4.9,7.6,3.0,5.9,4.6,
8.8,3.5,5.1,6.9,4.1,9.9,6.1,4.3,8.1,5.5,
3.7,4.7,5.6,7.2,11.0,2.6,4.5,6.6,8.4,12.2,
3.5,5.2,7.8,4.0,6.0,13.3,3.9,9.3,5.3,7.0,
3.2,6.2,14.4,4.9,8.0,3.8,5.7,10.5,3.4,15.4,
5.4,7.3,4.2,6.5,11.6,3.7,6.0,16.1,5.0,7.7];
const PAH_6m = [6.56,6.67,13.66,12.26,7.85,12.26,7.58,12.85,
5.7,8.1,8.6,11.8,12.3,13.6,
2.3,3.9,5.3,7.0,9.6,11.0,13.2,6.3,
2.8,3.6,4.5,5.4,6.3,7.2,8.1,9.0,9.9,10.8,11.7,12.6,13.5,14.1,
2.6,3.3,4.0,4.7,5.4,6.0,6.6,7.2,7.8,8.4,9.0,9.6,10.2,10.8,11.4,12.0,12.6,13.2,13.8,4.4,5.8,7.5,9.3,11.1,
2.5,3.2,3.9,4.6,5.2,5.8,6.4,7.0,7.6,8.2,8.8,9.4,10.0,10.6,11.2,11.8,12.4,13.0,13.6,4.2,6.8,8.5,10.4,12.1,
2.9,4.1,5.3,6.5,7.7,8.9,10.1,11.3,12.5,13.7,3.5,6.0,8.0,9.7,11.6,12.9,
4.3,5.2,6.1,7.0,4.7,5.6,7.9,4.0,6.6,5.4,
8.8,4.5,5.9,7.4,5.0,9.7,6.8,5.2,8.4,6.3,
4.6,5.5,6.4,7.6,10.6,3.6,5.3,7.1,8.6,11.5,
4.4,6.0,8.1,4.9,6.7,12.4,4.8,9.2,6.2,7.5,
4.1,6.9,12.9,5.7,8.3,4.8,6.5,10.2,4.2,13.4,
6.2,7.8,5.1,7.2,11.0,4.6,6.6,13.9,5.8,8.0];

// ---- PM10 (ug/m3)
const rangePM10 = [11.2, 89.9];
const ticksPM10 = [25, 50, 75];
const fitPM10 = [[0.0225,0.0263],[0.0235,0.0245],[0.0246,0.0228],[0.0253,0.0223]];
const PM10_1w = [46.6,32.8,29.3,32.7,32.7,21.2,27.3,21.2,
18.1,21.1,27.9,29.0,30.6,44.0,
36.3,52.9,65.2,73.8,27.3,16.8,31.5,48.6,
15.0,18.3,21.5,24.6,27.8,31.1,34.6,38.4,42.8,48.0,54.1,61.2,70.2,86.5,
16.2,18.7,21.0,23.2,25.3,27.4,29.5,31.6,33.8,36.1,38.6,41.3,44.3,47.7,51.5,55.8,60.7,66.4,72.9,80.1,20.1,26.1,30.2,35.0,
15.6,17.9,20.1,22.2,24.2,26.2,28.2,30.3,32.4,34.6,37.0,39.6,42.5,45.8,49.6,54.0,59.2,65.6,19.0,23.7,28.7,33.2,40.9,86.0,
16.8,19.6,22.4,25.1,27.9,30.7,33.7,37.1,41.0,45.6,51.3,58.0,22.9,28.6,34.3,24.0,
16.4,19.3,22.1,24.9,17.6,20.7,27.6,15.8,23.5,19.9,
30.8,17.1,21.6,26.3,18.5,34.4,24.2,19.0,29.2,22.6,
17.9,20.3,23.0,27.1,38.3,15.4,20.0,25.6,31.7,42.6,
16.9,21.9,28.5,18.8,23.8,47.1,17.4,35.9,21.2,27.0,
16.0,25.0,52.3,20.5,30.1,18.2,22.8,40.2,16.6,57.5,
22.4,28.0,19.5,25.3,44.7,17.7,23.9,62.8,20.9,31.2];
const PM10_1m = [34.1,33.1,25.4,29.3,32.9,29.0,33.9,25.4,
37.3,24.3,23.9,25.7,35.0,33.4,
20.0,21.4,43.4,29.8,51.6,31.4,26.6,47.6,
18.2,20.6,23.0,25.4,27.8,30.3,32.9,35.6,38.5,41.7,45.2,49.4,54.5,60.6,
19.1,21.2,23.2,25.1,27.0,28.9,30.8,32.7,34.7,36.8,39.0,41.3,43.8,46.5,49.5,52.9,56.7,59.8,62.2,24.2,29.9,35.6,22.3,37.8,
18.8,20.9,22.9,24.8,26.7,28.6,30.5,32.4,34.4,36.5,38.7,41.1,43.7,46.6,50.0,53.9,58.6,23.8,27.5,31.3,26.0,35.1,39.9,21.7,
19.6,22.5,25.4,28.3,31.2,34.2,37.4,41.0,45.3,50.5,56.0,24.0,29.6,33.0,27.0,38.8,
19.4,22.1,24.8,27.5,20.5,23.5,30.3,18.9,26.1,22.8,
33.4,20.1,24.4,29.0,21.4,36.6,26.8,21.9,31.8,25.3,
20.8,23.2,25.8,29.8,40.4,18.6,22.6,28.3,34.2,44.5,
19.9,24.6,31.0,21.6,26.6,48.4,20.3,38.1,24.0,29.6,
19.1,27.8,52.1,23.3,32.7,21.1,25.6,42.6,19.6,55.3,
25.0,30.7,22.3,28.1,46.2,20.7,26.3,58.9,23.7,33.8];
const PM10_3m = [31.0,29.0,31.0,31.8,29.0,31.8,29.3,29.7,
23.5,28.2,47.8,51.2,24.8,30.5,
21.2,26.2,33.5,39.8,44.3,29.2,37.1,22.4,
21.8,23.6,25.5,27.4,29.3,31.3,33.4,35.6,37.9,40.3,42.8,45.4,48.2,51.0,
22.0,23.3,24.6,25.9,27.2,28.5,29.8,31.1,32.4,33.8,35.2,36.7,38.3,40.0,41.8,43.7,45.7,47.8,50.0,26.6,30.3,34.4,24.0,39.0,
21.5,22.8,24.1,25.4,26.7,28.0,29.3,30.6,32.0,33.4,34.9,36.5,38.2,40.1,42.2,44.5,47.1,50.2,27.3,31.6,25.0,35.7,23.0,28.8,
22.3,24.6,26.9,29.2,31.5,33.9,36.5,39.4,42.7,46.5,27.8,30.1,34.6,25.7,38.0,23.9,
22.6,24.9,27.3,29.6,23.5,26.0,32.2,22.1,28.3,25.3,
35.0,23.1,26.9,30.9,24.2,37.8,29.0,24.6,33.5,27.7,
23.8,25.7,28.0,31.6,40.4,21.7,25.1,30.2,35.6,43.2,
22.9,27.1,32.8,24.4,28.8,45.8,23.3,38.6,26.5,31.3,
22.3,29.9,48.5,25.9,34.2,23.9,27.9,41.8,22.7,50.3,
27.5,32.5,24.8,30.5,44.5,23.6,28.5,46.9,26.2,34.8];
const PM10_6m = [28.2,27.8,35.0,42.0,27.6,42.9,28.0,33.9,
34.4,36.7,37.4,25.9,27.2,39.1,
25.0,26.4,29.6,32.4,35.1,38.2,40.5,30.7,
24.3,25.8,27.3,28.8,30.3,31.8,33.3,34.8,36.3,37.8,39.3,40.8,42.3,43.8,
24.6,25.7,26.8,27.9,29.0,30.1,31.2,32.3,33.4,34.5,35.6,36.7,37.8,38.9,40.0,41.1,42.2,43.3,44.4,26.3,29.5,33.0,36.1,39.5,
23.9,25.1,26.3,27.5,28.7,29.9,31.1,32.3,33.5,34.7,35.9,37.1,38.3,39.5,40.7,41.9,43.1,44.3,27.0,30.6,34.1,37.6,41.3,44.8,
24.4,26.0,27.6,29.2,30.8,32.4,34.0,35.6,37.2,38.8,40.4,42.0,43.6,28.4,31.9,41.5,
24.7,26.5,28.3,30.1,25.4,27.2,31.9,24.2,29.2,26.9,
33.7,25.0,28.0,31.2,25.9,35.5,29.8,26.2,33.0,28.6,
25.6,27.4,29.1,31.6,37.3,24.0,27.0,30.5,34.2,39.0,
24.9,28.4,32.4,26.0,29.6,40.7,25.3,36.0,27.8,31.0,
24.4,30.3,42.4,27.6,33.4,25.8,28.9,38.4,24.6,43.8,
28.2,32.1,26.4,30.0,39.6,25.5,29.4,44.5,27.3,33.9];

// ---- PM2.5 (ug/m3)
const rangePM25 = [3.16, 36.0];
const ticksPM25 = [10, 20, 30];
const fitPM25 = [[0.0246,0.0210],[0.0250,0.0202],[0.0241,0.0226],[0.0230,0.0241]];
const PM25_1w = [14.27,13.6,13.4,21.2,15.7,10.7,8.6,6.4,
7.3,11.8,12.5,14.4,15.6,21.0,
8.9,9.5,10.2,17.4,20.5,30.2,11.3,14.8,
5.6,6.9,8.1,9.3,10.5,11.7,12.9,14.2,15.6,17.1,18.8,20.7,23.0,25.8,
5.2,6.3,7.3,8.3,9.2,10.1,11.0,11.9,12.8,13.7,14.6,15.5,16.5,17.5,18.6,19.8,21.1,22.6,24.3,26.6,30.6,9.7,12.3,15.1,
4.8,5.9,6.9,7.9,8.8,9.7,10.6,11.5,12.4,13.3,14.2,15.2,16.2,17.3,18.5,19.8,21.3,23.0,25.1,27.4,8.4,13.0,16.8,11.1,
5.5,7.6,9.6,11.5,13.4,15.3,17.3,19.5,22.0,24.4,28.8,32.0,6.0,10.4,14.5,21.8,
5.8,7.4,8.9,10.4,6.5,8.1,11.8,5.3,9.6,7.8,
13.4,6.2,8.5,11.1,7.0,15.0,10.0,7.6,12.5,9.1,
6.8,8.3,9.8,12.0,16.8,5.0,7.9,10.9,13.9,18.7,
6.0,8.7,12.8,7.2,9.9,20.6,6.6,15.6,8.8,11.5,
5.6,10.6,22.4,8.0,13.1,6.9,9.3,17.5,5.9,24.2,
9.0,12.2,7.3,10.3,19.4,6.4,9.5,26.1,8.6,13.6];
const PM25_1m = [12.6,12.7,15.8,20.8,14.6,22.8,10.4,8.8,
9.7,11.7,12.1,15.8,13.8,17.6,
7.0,8.4,10.2,13.0,16.6,19.4,11.5,14.2,
6.5,7.7,8.9,10.1,11.3,12.5,13.7,15.0,16.4,17.9,19.6,21.6,25.3,34.7,
6.2,7.2,8.1,9.0,9.9,10.8,11.7,12.6,13.5,14.4,15.3,16.2,17.2,18.2,19.3,20.5,21.9,23.6,28.0,33.6,8.6,11.1,13.9,16.8,
6.6,7.5,8.4,9.3,10.2,11.1,12.0,12.9,13.8,14.7,15.6,16.6,17.6,18.7,19.9,21.3,23.0,25.5,8.0,10.6,13.3,15.9,12.4,9.6,
6.9,8.7,10.5,12.3,14.1,15.9,17.8,19.8,22.1,27.5,11.4,13.1,16.4,9.2,18.4,7.8,
6.7,8.2,9.7,11.2,7.4,8.9,12.6,6.4,10.4,8.6,
14.2,7.1,9.3,11.9,7.9,15.8,10.8,8.5,13.3,9.9,
7.6,9.1,10.6,12.8,17.6,6.3,8.7,11.7,14.7,19.5,
6.9,9.5,13.6,8.0,10.7,21.3,7.5,16.4,9.6,12.3,
6.5,11.4,23.1,8.8,13.9,7.8,10.1,18.3,6.8,24.9,
9.8,13.0,8.1,11.1,20.2,7.3,10.3,26.7,9.4,14.4];
const PM25_3m = [11.3,10.9,22.7,23.8,12.2,24.0,9.4,19.1,
10.3,11.9,14.2,22.5,23.3,13.4,
7.0,8.6,11.0,12.8,15.6,18.3,21.0,23.1,
7.6,8.8,10.0,11.2,12.4,13.6,14.8,16.0,17.3,18.7,20.2,21.8,23.6,25.8,
7.3,8.2,9.1,10.0,10.9,11.8,12.7,13.6,14.5,15.4,16.3,17.2,18.1,19.1,20.1,21.2,22.4,23.7,25.1,26.3,9.6,12.2,14.9,17.6,
7.5,8.4,9.3,10.2,11.1,12.0,12.9,13.8,14.7,15.6,16.5,17.5,18.5,19.6,20.8,22.1,23.5,25.0,10.6,13.3,16.0,11.6,8.9,24.3,
7.8,9.5,11.2,12.9,14.6,16.3,18.1,20.0,22.0,24.2,26.0,10.1,13.7,17.1,8.3,15.2,
7.7,9.1,10.5,11.9,8.4,9.8,13.2,7.4,11.1,9.5,
14.7,8.1,10.2,12.6,8.8,16.2,11.5,9.4,13.9,10.8,
8.6,10.0,11.3,13.4,17.9,7.2,9.6,12.3,15.2,19.6,
7.9,10.4,14.1,8.9,11.4,21.2,8.5,16.8,10.4,12.9,
7.5,12.0,22.7,9.7,14.4,8.7,10.9,18.6,7.8,24.3,
10.6,13.6,9.0,11.7,20.4,8.3,11.0,25.6,10.1,14.9];
const PM25_6m = [11.6,12.7,22.0,20.4,13.6,19.8,12.6,19.8,
12.3,13.0,14.5,17.6,19.9,20.3,
9.0,10.2,11.4,12.9,14.8,16.5,18.7,20.5,
9.2,10.1,11.0,11.9,12.8,13.7,14.6,15.5,16.4,17.3,18.2,19.1,20.0,20.9,
8.8,9.6,10.4,11.2,12.0,12.8,13.6,14.4,15.2,16.0,16.8,17.6,18.4,19.2,20.0,20.8,21.6,22.3,10.8,13.2,15.6,17.9,11.8,14.1,
9.1,9.9,10.7,11.5,12.3,13.1,13.9,14.7,15.5,16.3,17.1,17.9,18.7,19.5,20.3,21.1,21.9,10.3,12.6,14.9,17.4,19.8,11.9,16.6,
9.4,10.6,11.8,13.0,14.2,15.4,16.6,17.8,19.0,20.2,21.4,22.1,12.4,15.0,18.3,13.5,
9.3,10.4,11.5,12.6,9.8,10.9,13.7,9.0,12.0,10.7,
14.8,9.6,11.2,13.1,10.1,15.9,12.3,10.5,14.2,11.7,
9.9,11.0,12.1,13.5,17.0,8.9,10.8,12.8,15.1,18.1,
9.4,11.3,14.5,10.3,12.4,19.2,9.7,16.3,11.6,13.3,
9.1,12.7,20.3,10.6,14.0,10.0,11.9,17.4,9.5,21.2,
11.4,13.8,10.2,12.9,18.6,9.8,12.2,21.8,11.1,14.6];

const COLS = [
 {strip:'CO (ppm)', range:rangeCO, ticks:ticksCO, fit:fitCO, xs:[CO_1w,CO_1m,CO_3m,CO_6m]},
 {strip:'EC (ug/m<sup>3</sup>)', range:rangeEC, ticks:ticksEC, fit:fitEC, xs:[EC_1w,EC_1m,EC_3m,EC_6m]},
 {strip:'NO<sub>2</sub> (ppb)', range:rangeNO2, ticks:ticksNO2, fit:fitNO2, xs:[NO2_1w,NO2_1m,NO2_3m,NO2_6m]},
 {strip:'NO<sub>x</sub> (ppb)', range:rangeNOx, ticks:ticksNOx, fit:fitNOx, xs:[NOx_1w,NOx_1m,NOx_3m,NOx_6m]},
 {strip:'O<sub>3</sub> (ppb)', range:rangeO3, ticks:ticksO3, fit:fitO3, xs:[O3_1w,O3_1m,O3_3m,O3_6m]},
 {strip:'PAH<sub>456</sub> (ng/m<sup>3</sup>)', range:rangePAH, ticks:ticksPAH, fit:fitPAH, xs:[PAH_1w,PAH_1m,PAH_3m,PAH_6m]},
 {strip:'PM<sub>10</sub> (ug/m<sup>3</sup>)', range:rangePM10, ticks:ticksPM10, fit:fitPM10, xs:[PM10_1w,PM10_1m,PM10_3m,PM10_6m]},
 {strip:'PM<sub>2.5</sub> (ug/m<sup>3</sup>)', range:rangePM25, ticks:ticksPM25, fit:fitPM25, xs:[PM25_1w,PM25_1m,PM25_3m,PM25_6m]}
];

// ---------------- LAYOUT ----------------
const PW = 281, PH = 292;
const colLeft = c => Math.round(140.5 + 294.0 * c);
const rowTop = r => Math.round(74 + 307.3 * r);
const ML = 90, MR = 30, MT = 6, MB = 52;
const wrap = document.getElementById('wrap');

function withMinors(majors, min, max) {
  const step = majors.length > 1 ? majors[1] - majors[0] : (max - min);
  const all = majors.slice();
  for (let i = 0; i < majors.length - 1; i++) all.push((majors[i] + majors[i+1]) / 2);
  all.push(majors[0] - step/2, majors[majors.length-1] + step/2);
  return all.filter(v => v >= min && v <= max).sort((a,b)=>a-b);
}
const isIn = (arr, v) => arr.some(m => Math.abs(m - v) < 1e-9);

function band(xs, ys, x0, x1, y0, y1) {
  const n = Math.min(xs.length, ys.length);
  const slope = (y1 - y0) / (x1 - x0);
  const f = x => y0 + slope * (x - x0);
  let mx = 0; for (let i = 0; i < n; i++) mx += xs[i]; mx /= n;
  let sxx = 0, sse = 0;
  for (let i = 0; i < n; i++) { sxx += (xs[i]-mx)**2; sse += (ys[i]-f(xs[i]))**2; }
  const s = Math.sqrt(sse / (n - 2)), t = 1.975;
  const up = [], lo = [];
  const K = 48;
  for (let k = 0; k <= K; k++) {
    const x = x0 + (x1 - x0) * k / K;
    const se = s * Math.sqrt(1/n + (x-mx)**2 / sxx);
    up.push({x, y: f(x) + t*se}); lo.push({x, y: f(x) - t*se});
  }
  return [up, lo];
}

const framePlugin = {
  id: 'frame',
  afterDraw(chart) {
    const a = chart.chartArea, ctx = chart.ctx;
    ctx.save();
    ctx.strokeStyle = '#5a5a5a'; ctx.lineWidth = 1.8;
    ctx.strokeRect(a.left, a.top, a.right - a.left, a.bottom - a.top);
    ctx.restore();
  }
};

const tickFont = {family: "'Liberation Sans', Arial, sans-serif", size: 19.5};

COLS.forEach((col, c) => {
  const L = colLeft(c);
  const st = document.createElement('div');
  st.className = 'strip';
  st.style.left = (L - 1) + 'px'; st.style.top = '11px';
  st.style.width = (PW + 2) + 'px'; st.style.height = '64px';
  st.innerHTML = '<span class="t">' + col.strip + '</span>';
  wrap.appendChild(st);

  const xAll = withMinors(col.ticks, col.range[0], col.range[1]);
  const yAll = withMinors(yTicks, yRange[0], yRange[1]);

  for (let r = 0; r < 4; r++) {
    const T = rowTop(r);
    const cv = document.createElement('canvas');
    cv.className = 'panel';
    const W = PW + ML + MR, H = PH + MT + MB;
    cv.width = W; cv.height = H;
    cv.style.left = (L - ML) + 'px'; cv.style.top = (T - MT) + 'px';
    cv.style.width = W + 'px'; cv.style.height = H + 'px';
    wrap.appendChild(cv);

    const xs = col.xs[r];
    const n = Math.min(xs.length, treg.length);
    const pts = [];
    for (let i = 0; i < n; i++) pts.push({x: xs[i], y: treg[i]});
    let xmin = Infinity, xmax = -Infinity;
    for (let i = 0; i < n; i++) { if (xs[i] < xmin) xmin = xs[i]; if (xs[i] > xmax) xmax = xs[i]; }
    const [y0, y1] = col.fit[r];
    const [up, lo] = band(xs.slice(0,n), treg.slice(0,n), xmin, xmax, y0, y1);
    const bottomRow = r === 3, firstCol = c === 0;

    new Chart(cv, {
      type: 'scatter',
      data: {datasets: [
        {type:'line', data:[{x:xmin,y:y0},{x:xmax,y:y1}], borderColor:'#3366FF', borderWidth:4.2, pointRadius:0, fill:false, tension:0, order:0},
        {type:'line', data:up, borderColor:'rgba(0,0,0,0)', borderWidth:0, pointRadius:0, fill:'+1', backgroundColor:'rgba(200,200,200,0.45)', tension:0, order:1},
        {type:'line', data:lo, borderColor:'rgba(0,0,0,0)', borderWidth:0, pointRadius:0, fill:false, tension:0, order:1},
        {type:'scatter', data:pts, pointRadius:4.2, pointBackgroundColor:'#000', backgroundColor:'#000', pointBorderWidth:0, borderWidth:0, order:2}
      ]},
      options: {
        responsive:false, animation:false, devicePixelRatio:1, events:[],
        layout:{autoPadding:false, padding:{left: firstCol?0:ML, right:MR, top:MT, bottom: bottomRow?0:MB}},
        plugins:{legend:{display:false}, tooltip:{enabled:false}},
        scales:{
          x:{type:'linear', min:col.range[0], max:col.range[1],
             afterBuildTicks: s => { s.ticks = xAll.map(v => ({value:v})); },
             afterFit: s => { s.height = bottomRow ? MB : 0; s.paddingLeft = 0; s.paddingRight = 0; },
             border:{display:false},
             grid:{drawOnChartArea:true, drawTicks:bottomRow, tickLength:7,
                   color: ctx => (ctx.tick && isIn(col.ticks, ctx.tick.value)) ? '#EBEBEB' : '#F2F2F2',
                   lineWidth: ctx => (ctx.tick && isIn(col.ticks, ctx.tick.value)) ? 2.6 : 1.3,
                   tickColor: ctx => (ctx.tick && isIn(col.ticks, ctx.tick.value)) ? '#333333' : 'rgba(0,0,0,0)',
                   tickWidth: 2},
             ticks:{display:bottomRow, autoSkip:false, maxRotation:0, minRotation:0, padding:5, color:'#4D4D4D', font:tickFont,
                    callback: v => isIn(col.ticks, v) ? String(col.ticks.find(m => Math.abs(m - v) < 1e-9)) : ''}},
          y:{type:'linear', min:yRange[0], max:yRange[1],
             afterBuildTicks: s => { s.ticks = yAll.map(v => ({value:v})); },
             afterFit: s => { s.width = firstCol ? ML : 0; s.paddingTop = 0; s.paddingBottom = 0; },
             border:{display:false},
             grid:{drawOnChartArea:true, drawTicks:firstCol, tickLength:7,
                   color: ctx => (ctx.tick && isIn(yTicks, ctx.tick.value)) ? '#EBEBEB' : '#F2F2F2',
                   lineWidth: ctx => (ctx.tick && isIn(yTicks, ctx.tick.value)) ? 2.6 : 1.3,
                   tickColor: ctx => (ctx.tick && isIn(yTicks, ctx.tick.value)) ? '#333333' : 'rgba(0,0,0,0)',
                   tickWidth: 2},
             ticks:{display:firstCol, autoSkip:false, padding:6, color:'#4D4D4D', font:tickFont,
                    callback: v => isIn(yTicks, v) ? Number(v).toFixed(3) : ''}}
        }
      },
      plugins:[framePlugin]
    });
  }
});

windows.forEach((w, r) => {
  const d = document.createElement('div');
  d.className = 'rstrip';
  d.textContent = w;
  d.style.left = (colLeft(7) + PW + 22) + 'px';
  d.style.top = (rowTop(r) + PH/2) + 'px';
  wrap.appendChild(d);
});

const yt = document.createElement('div');
yt.className = 'ytitle'; yt.textContent = 'Treg';
yt.style.left = '43px'; yt.style.top = '662px';
wrap.appendChild(yt);
const xt = document.createElement('div');
xt.className = 'xtitle'; xt.textContent = 'Pollution measure';
xt.style.left = '1308px'; xt.style.top = '1329px';
wrap.appendChild(xt);
</script>
</body></html>
